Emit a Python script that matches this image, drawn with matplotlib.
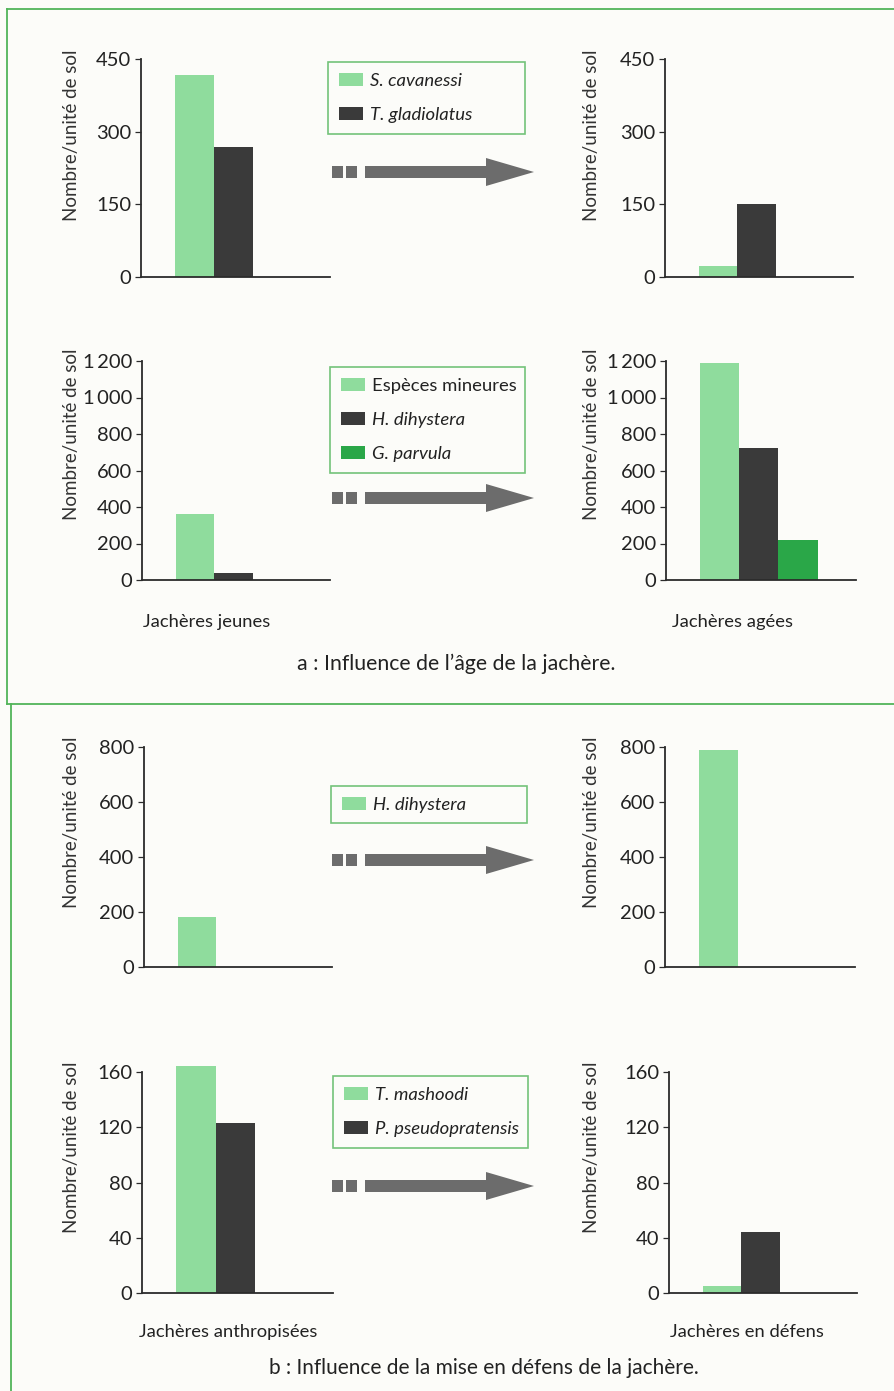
import matplotlib
matplotlib.use("Agg")
import matplotlib.pyplot as plt
from matplotlib.patches import Rectangle, Polygon
from matplotlib.lines import Line2D

plt.rcParams['font.family'] = ['Lato', 'DejaVu Sans']

W, H = 894, 1391

# ---------------- data ----------------
species_a1 = ['S. cavanessi', 'T. gladiolatus']
a1_jeunes = [417, 268]
a1_agees = [23, 151]
ticks_a1 = [0, 150, 300, 450]
ticklabels_a1 = ['0', '150', '300', '450']

species_a2 = ['Espèces mineures', 'H. dihystera', 'G. parvula']
a2_jeunes = [362, 38, 0]
a2_agees = [1190, 721, 220]
ticks_a2 = [0, 200, 400, 600, 800, 1000, 1200]
ticklabels_a2 = ['0', '200', '400', '600', '800', '1\u2009000', '1\u2009200']

species_b1 = ['H. dihystera']
b1_anthrop = [182]
b1_defens = [789]
ticks_b1 = [0, 200, 400, 600, 800]
ticklabels_b1 = ['0', '200', '400', '600', '800']

species_b2 = ['T. mashoodi', 'P. pseudopratensis']
b2_anthrop = [164, 123]
b2_defens = [5, 44]
ticks_b2 = [0, 40, 80, 120, 160]
ticklabels_b2 = ['0', '40', '80', '120', '160']

italic_flags = {'S. cavanessi': True, 'T. gladiolatus': True, 'Espèces mineures': False,
                'H. dihystera': True, 'G. parvula': True, 'T. mashoodi': True,
                'P. pseudopratensis': True}

LIGHT = '#8fdc9d'
DARK = '#3a3a3a'
GREEN = '#2aa748'
colors_a1 = [LIGHT, DARK]
colors_a2 = [LIGHT, DARK, GREEN]
colors_b1 = [LIGHT]
colors_b2 = [LIGHT, DARK]

FRAME = '#52b55a'
AXC = '#2b2b2b'
TXT = '#222222'
ARROW = '#6c6c6c'

fig = plt.figure(figsize=(W / 100, H / 100), dpi=100)
fig.patch.set_facecolor('#fcfcf9')


def rect(x0, yt, x1, yb):
    return [x0 / W, 1 - yb / H, (x1 - x0) / W, (yb - yt) / H]


def panel(x0, yt, x1, yb, values, colors, ticks, labels, ylab_x, ylab_y):
    ax = fig.add_axes(rect(x0, yt, x1, yb))
    ax.set_facecolor('none')
    xs = list(range(len(values)))
    bars = ax.bar(xs, values, width=1.0, color=colors, edgecolor='none', align='center',
                  clip_on=False)
    ax.set_xlim(-1.37, 3.48)
    ax.set_ylim(0, ticks[-1])
    ax.set_yticks(ticks)
    ax.set_yticklabels(labels)
    ax.set_xticks([])
    for s in ['top', 'right']:
        ax.spines[s].set_visible(False)
    for s in ['left', 'bottom']:
        ax.spines[s].set_color(AXC)
        ax.spines[s].set_linewidth(1.3)
    ax.tick_params(axis='y', direction='out', length=4, width=0.9, color=AXC,
                   labelsize=14.5, labelcolor=TXT, pad=3)
    fig.text(ylab_x / W, 1 - ylab_y / H, 'Nombre/unité de sol', rotation=90,
             ha='center', va='center', fontsize=13.5, color='#333333')
    return ax, bars


def legend(bars, names, x0, yt, x1):
    leg = fig.legend(list(bars), names, loc='upper left',
                     bbox_to_anchor=(x0 / W, 1 - yt / H, (x1 - x0) / W, 0),
                     mode='expand', borderaxespad=0, fancybox=False, frameon=True,
                     edgecolor=FRAME, facecolor='none', fontsize=13.3,
                     labelspacing=0.98, borderpad=0.58, handlelength=1.3,
                     handleheight=0.7, handletextpad=0.4)
    leg.get_frame().set_linewidth(1.2)
    for t in leg.get_texts():
        t.set_color(TXT)
        if italic_flags.get(t.get_text(), False):
            t.set_fontstyle('italic')
    return leg


def arrow(yc):
    h = 12
    for (a, b) in [(332, 343), (346, 357)]:
        fig.patches.append(Rectangle((a / W, 1 - (yc + h / 2) / H), (b - a) / W, h / H,
                                     transform=fig.transFigure, color=ARROW, lw=0))
    pts = [(365, yc - h / 2), (486, yc - h / 2), (486, yc - 14), (534, yc),
           (486, yc + 14), (486, yc + h / 2), (365, yc + h / 2)]
    pts = [(x / W, 1 - y / H) for x, y in pts]
    fig.patches.append(Polygon(pts, closed=True, transform=fig.transFigure,
                               color=ARROW, lw=0))


# ---- section a ----
ax1, b1 = panel(141, 59, 330, 277, a1_jeunes, colors_a1, ticks_a1, ticklabels_a1, 72, 135)
ax2, _ = panel(665, 59, 853, 277, a1_agees, colors_a1, ticks_a1, ticklabels_a1, 592, 135)
legend(b1, species_a1, 328, 62, 525)
arrow(172)

ax3, _ = panel(142, 361, 330, 580, a2_jeunes, colors_a2, ticks_a2, ticklabels_a2, 72, 434)
ax4, b4 = panel(666, 361, 856, 580, a2_agees, colors_a2, ticks_a2, ticklabels_a2, 592, 434)
legend(b4, species_a2, 330, 367, 525)
arrow(498)

fig.text(207 / W, 1 - 622 / H, 'Jachères jeunes', ha='center', va='center', fontsize=13.2, color=TXT)
fig.text(733 / W, 1 - 622 / H, 'Jachères agées', ha='center', va='center', fontsize=13.2, color=TXT)
fig.text(456 / W, 1 - 664 / H, 'a : Influence de l\u2019âge de la jachère.', ha='center',
         va='center', fontsize=15.3, color=TXT)

# ---- section b ----
ax5, b5 = panel(144, 747, 332, 967, b1_anthrop, colors_b1, ticks_b1, ticklabels_b1, 72, 822)
ax6, _ = panel(665, 747, 855, 967, b1_defens, colors_b1, ticks_b1, ticklabels_b1, 592, 822)
legend(b5, species_b1, 331, 786, 527)
arrow(860)

ax7, b7 = panel(142, 1072, 333, 1293, b2_anthrop, colors_b2, ticks_b2, ticklabels_b2, 72, 1147)
ax8, _ = panel(669, 1072, 857, 1293, b2_defens, colors_b2, ticks_b2, ticklabels_b2, 592, 1147)
legend(b7, species_b2, 333, 1076, 528)
arrow(1186)

fig.text(228 / W, 1 - 1332 / H, 'Jachères anthropisées', ha='center', va='center', fontsize=13.2, color=TXT)
fig.text(747 / W, 1 - 1332 / H, 'Jachères en défens', ha='center', va='center', fontsize=13.2, color=TXT)
fig.text(484 / W, 1 - 1368 / H, 'b : Influence de la mise en défens de la jachère.', ha='center',
         va='center', fontsize=15, color=TXT)

# ---- green frame lines ----
def fline(xs, ys):
    fig.lines.append(Line2D([x / W for x in xs], [1 - y / H for y in ys],
                            transform=fig.transFigure, color=FRAME, lw=1.3))

fline([7, 894], [9, 9])
fline([7, 7], [9, 704])
fline([7, 894], [704, 704])
fline([11, 11], [704, 1391])

fig.savefig('out.png', dpi=100, facecolor=fig.get_facecolor())
